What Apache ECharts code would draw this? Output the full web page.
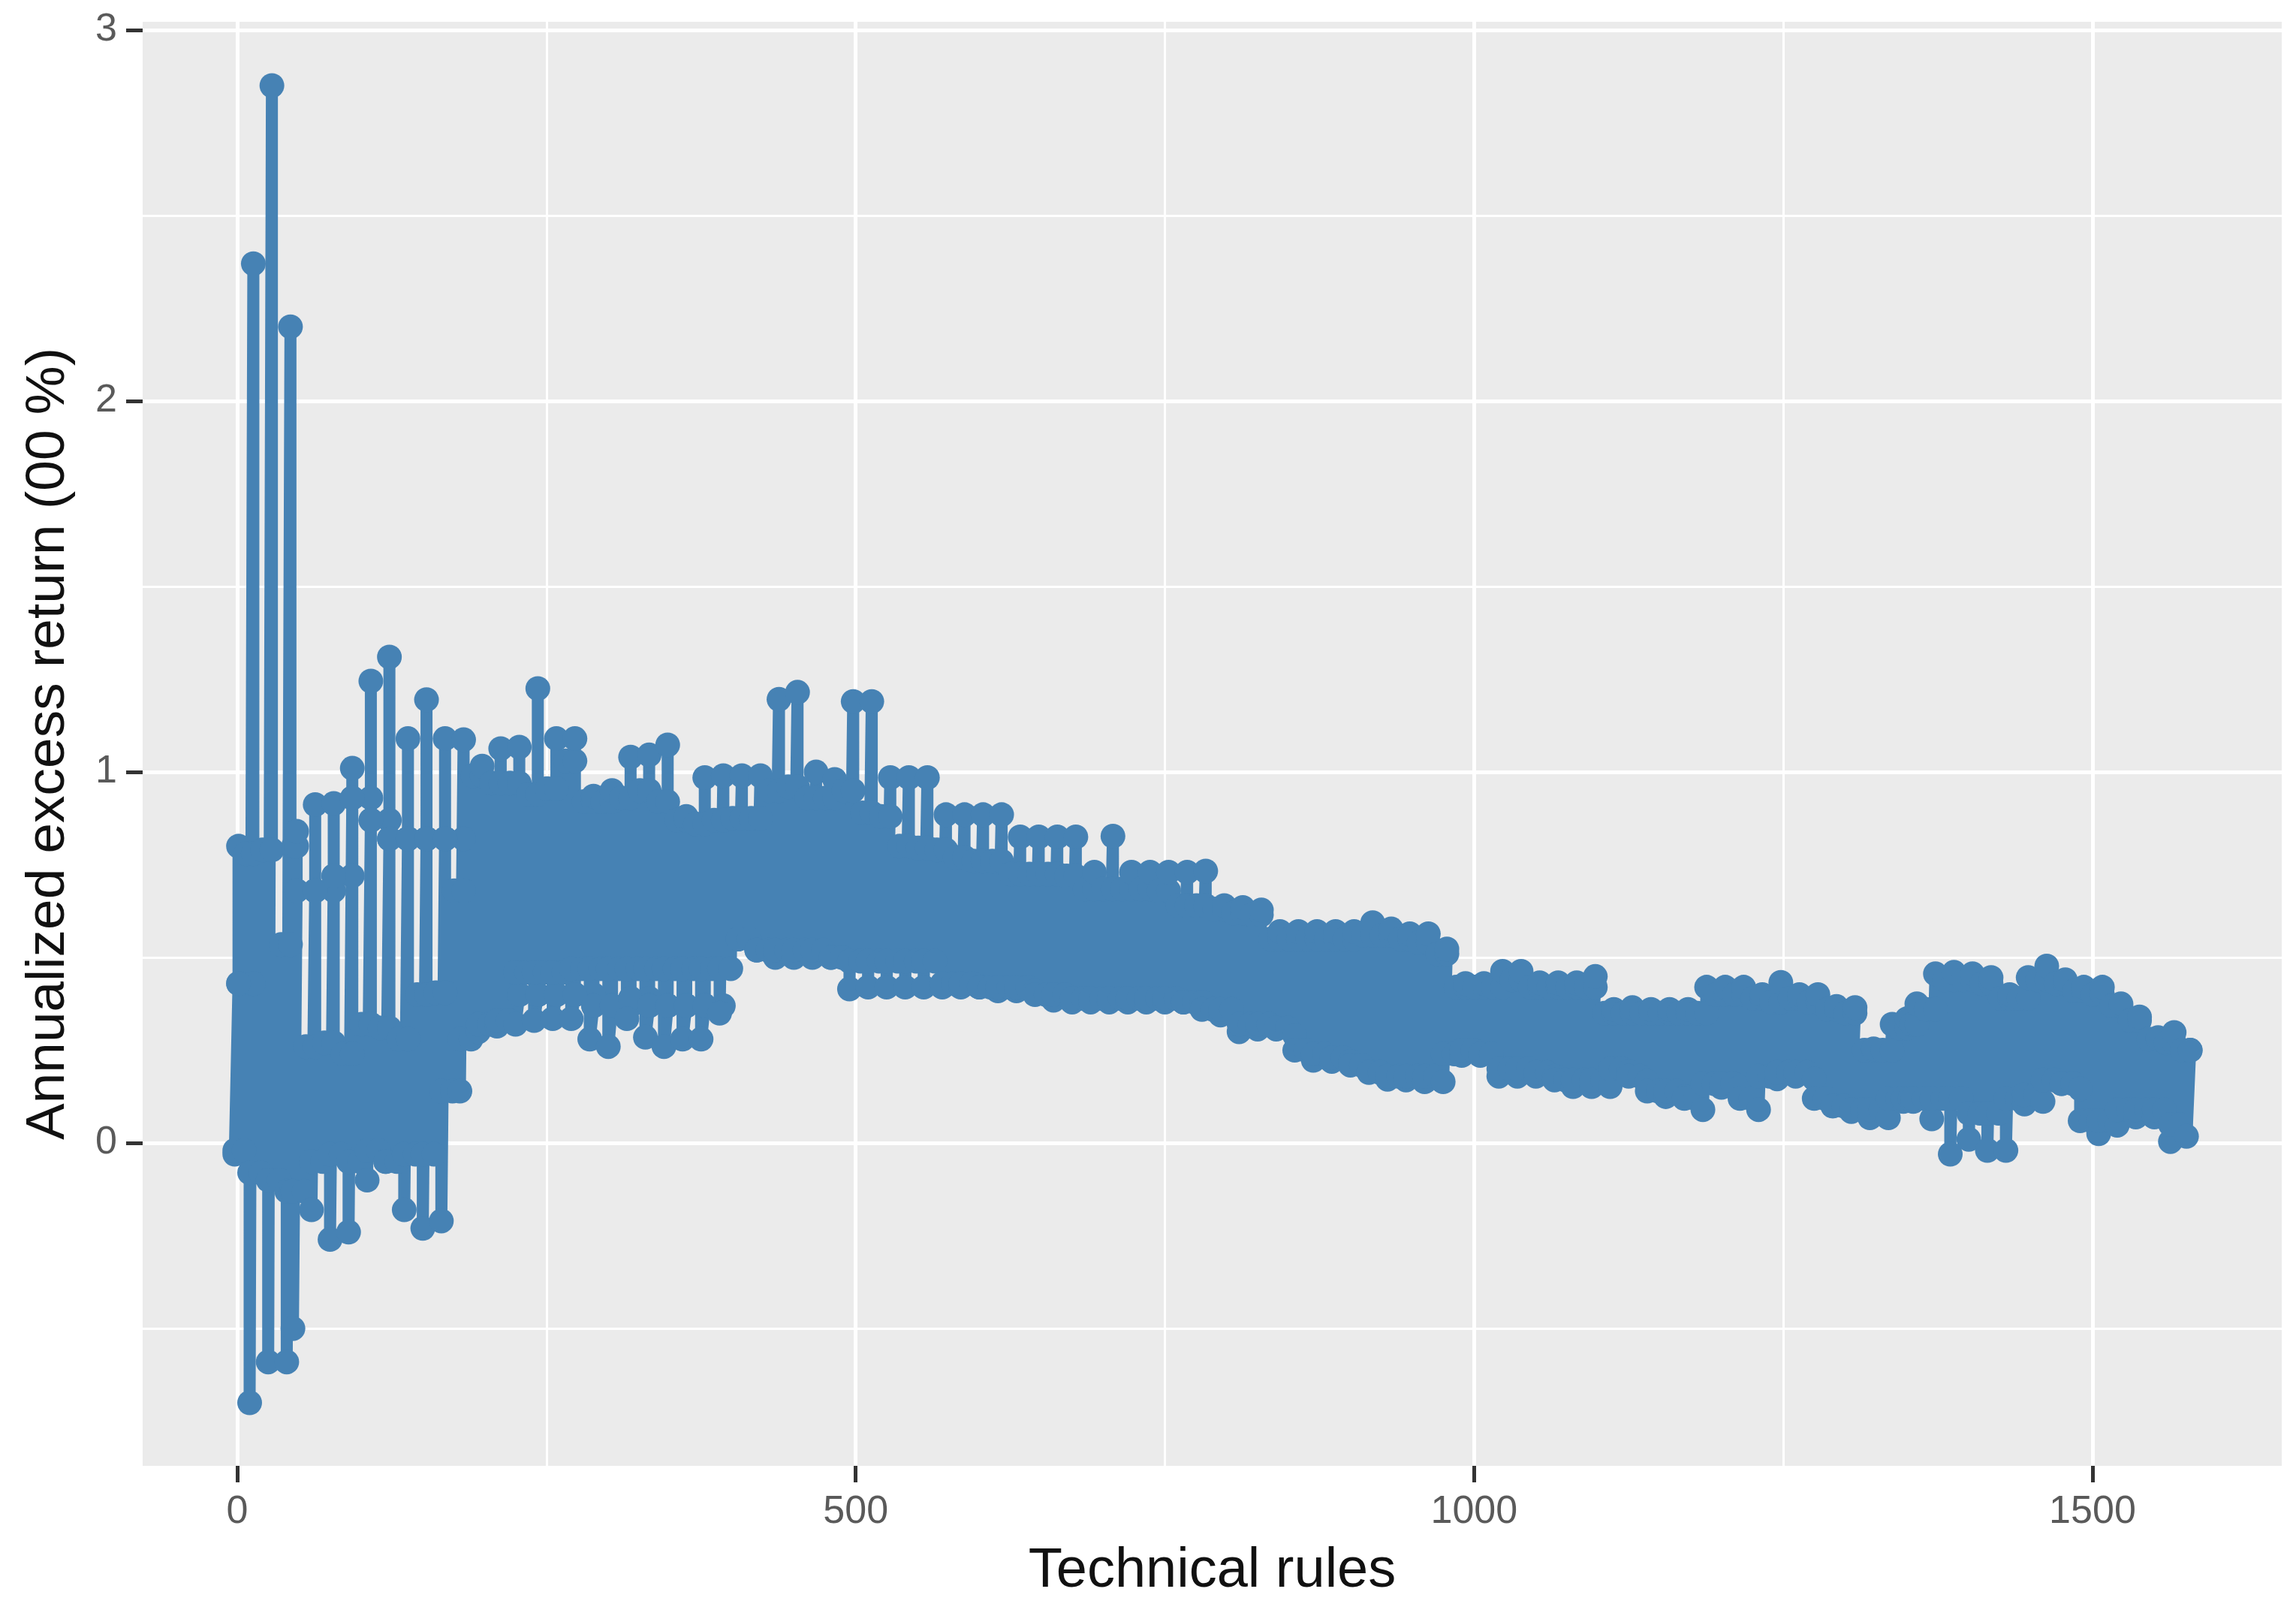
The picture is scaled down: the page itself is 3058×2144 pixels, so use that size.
<!DOCTYPE html>
<html>
<head>
<meta charset="utf-8">
<style>html,body{margin:0;padding:0;background:#fff}#c{width:3058px;height:2144px}</style>
<script src="https://cdn.jsdelivr.net/npm/echarts@6/dist/echarts.min.js"></script>
</head>
<body>
<div id="c"></div>
<script>
// Technical-rule numbers of each group of rules
const ruleIds = [1,13,28,43,48,63,78,93,108,123,
138,153,168,183,198,213,228,243,258,273,
288,303,318,333,348,363,378,393,408,423,
438,453,468,483,498,513,528,543,558,573,
588,603,618,633,648,663,678,693,708,723,
738,753,768,783,798,813,828,843,858,873,
888,903,918,933,948,963,978,993,1008,1023,
1038,1053,1068,1083,1098,1113,1128,1143,1158,1173,
1188,1203,1218,1233,1248,1263,1278,1293,1308,1323,
1338,1350,1358,1373,1388,1403,1418,1433,1448,1463,
1478,1493,1508,1523,1538,1553,1566,1579];
// Highest excess return in each group
const highs = [.80,2.37,2.85,2.20,.84,.912,.915,1.01,1.245,1.31,
1.09,1.195,1.09,1.087,1.016,1.063,1.067,1.225,1.09,1.09,
.935,.95,1.04,1.046,1.073,.88,.985,.99,.99,.99,
1.196,1.215,1.0,.98,1.19,1.19,.985,.985,.985,.885,
.885,.885,.885,.825,.825,.825,.825,.73,.827,.73,
.73,.73,.73,.733,.64,.635,.628,.57,.57,.57,
.57,.57,.594,.577,.564,.564,.523,.43,.43,.463,
.463,.432,.432,.432,.449,.36,.365,.36,.36,.36,
.42,.42,.42,.40,.433,.40,.40,.368,.365,.254,
.32,.335,.375,.456,.46,.456,.446,.40,.446,.477,
.44,.42,.42,.375,.34,.284,.298,.25];
// Lowest excess return in each group
const lows = [-.03,-.70,-.59,-.59,-.50,-.18,-.26,-.24,-.10,-.05,
-.18,-.23,-.21,.14,.30,.315,.32,.33,.335,.335,
.28,.26,.335,.285,.26,.28,.28,.35,.55,.52,
.50,.50,.50,.50,.415,.42,.42,.42,.42,.42,
.42,.42,.41,.41,.41,.385,.38,.38,.38,.38,
.38,.38,.38,.38,.345,.30,.307,.307,.29,.223,
.22,.22,.193,.172,.17,.165,.165,.236,.236,.18,
.18,.18,.18,.152,.152,.152,.193,.166,.125,.125,
.09,.15,.15,.09,.173,.18,.173,.10,.085,.068,
.068,.112,.112,.065,-.03,.01,-.02,-.02,.105,.112,
.16,.146,.025,.048,.07,.07,.004,.018];
// Upper and lower edge of the rules between this group and the next
const innerHighs = [.78,.79,.535,.80,.26,.27,.24,.32,.31,.28,
.40,.405,.68,.99,.97,.97,.94,.955,1.03,.92,
.92,.93,.95,.92,.87,.86,.87,.875,.875,.95,
.96,.93,.93,.95,.89,.88,.80,.795,.79,.77,
.76,.76,.725,.725,.725,.72,.685,.685,.685,.685,
.68,.64,.64,.63,.62,.615,.55,.55,.55,.55,
.55,.56,.56,.55,.54,.51,.42,.42,.42,.44,
.42,.42,.42,.42,.35,.35,.35,.35,.35,.35,
.40,.40,.39,.38,.39,.38,.36,.35,.25,.25,
.31,.32,.36,.44,.44,.43,.39,.39,.44,.43,
.41,.40,.37,.33,.28,.27,.25,null];
const innerLows = [-.02,-.08,-.10,-.13,-.13,-.05,-.03,-.05,-.02,-.05,
-.03,-.03,.14,.28,.32,.33,.46,.46,.46,.47,
.47,.47,.47,.47,.47,.47,.47,.47,.55,.52,
.52,.52,.52,.50,.49,.49,.49,.49,.49,.43,
.43,.42,.42,.42,.40,.40,.39,.39,.39,.39,
.39,.39,.38,.36,.36,.32,.32,.31,.25,.24,
.23,.21,.19,.18,.18,.18,.24,.25,.24,.20,
.20,.19,.17,.17,.17,.20,.18,.14,.14,.12,
.16,.16,.12,.18,.19,.19,.12,.10,.09,.09,
.12,.12,.12,.12,.12,.08,.08,.12,.13,.17,
.16,.06,.06,.09,.09,.09,.05,null];
// Return level where neighbouring groups cross (early rules only)
const crossings = [.43,null,null,null,.68,.68,.72,.93,.87,.82,
.82,.82,.82,null,null,null,.40,.40,.40,.40,
.37,.37,.39,.37,.37,.37,.37];

const xMajor = [0,500,1000,1500];
const xMinor = [250,750,1250];
const yMajor = [0,1,2,3];
const yMinor = [-0.5,0.5,1.5,2.5];
const xTitle = 'Technical rules';
const yTitle = 'Annualized excess return (00 %)';

const points = [];
ruleIds.forEach((id, k) => {
  const next = ruleIds[k + 1];
  points.push([id, highs[k]]);
  if (crossings[k] != null && next != null) {
    points.push([id, crossings[k]], [next, crossings[k]], [id, crossings[k]]);
  }
  points.push([id - 3, lows[k]]);
  if (next == null) return;
  const between = (id + next) / 2;
  points.push([id - 3, innerLows[k]], [between - 1.5, innerLows[k]], [between, innerHighs[k]], [next, innerHighs[k]]);
});

const gridLine = (key, v, w) => ({[key]: v, lineStyle: {color: '#ffffff', width: w, type: 'solid'}});
const gridLines = [
  ...xMinor.map(v => gridLine('xAxis', v, 3)),
  ...yMinor.map(v => gridLine('yAxis', v, 3)),
  ...xMajor.map(v => gridLine('xAxis', v, 5)),
  ...yMajor.map(v => gridLine('yAxis', v, 5))
];

const font = '"Liberation Sans", Arial, sans-serif';
const hiddenLine = {show: true, onZero: false, lineStyle: {color: 'rgba(0,0,0,0)', width: 1}};
const chart = echarts.init(document.getElementById('c'), null, {renderer: 'canvas'});
chart.setOption({
  animation: false,
  backgroundColor: '#ffffff',
  grid: {left: 190, right: 19, top: 29, bottom: 192, show: true, backgroundColor: '#EBEBEB', borderWidth: 0},
  xAxis: {
    type: 'value', min: -76.5, max: 1653,
    name: xTitle, nameLocation: 'middle', nameGap: 104,
    nameTextStyle: {fontFamily: font, fontSize: 74, color: '#111'},
    axisLine: hiddenLine,
    axisTick: {show: true, customValues: xMajor, length: 22, lineStyle: {color: '#333', width: 5}},
    axisLabel: {customValues: xMajor, formatter: v => String(v), margin: 36, fontFamily: font, fontSize: 52, color: '#5a5a5a'},
    splitLine: {show: false}
  },
  yAxis: {
    type: 'value', min: -0.87, max: 3.022,
    name: yTitle, nameLocation: 'middle', nameGap: 89,
    nameTextStyle: {fontFamily: font, fontSize: 73, color: '#111'},
    axisLine: hiddenLine,
    axisTick: {show: true, customValues: yMajor, length: 22, lineStyle: {color: '#333', width: 5}},
    axisLabel: {customValues: yMajor, formatter: v => String(v), margin: 34, padding: [8, 0, 0, 0], fontFamily: font, fontSize: 52, color: '#5a5a5a'},
    splitLine: {show: false}
  },
  series: [
    {
      type: 'line', data: [], z: 1, silent: true,
      markLine: {silent: true, symbol: 'none', label: {show: false}, animation: false, data: gridLines}
    },
    {
      type: 'line', data: points, z: 5,
      showSymbol: true, showAllSymbol: true, symbol: 'circle', symbolSize: 33,
      smooth: false, clip: false,
      itemStyle: {color: '#4682B4'},
      lineStyle: {color: '#4682B4', width: 16, cap: 'round', join: 'round'}
    }
  ]
});
</script>
</body>
</html>
